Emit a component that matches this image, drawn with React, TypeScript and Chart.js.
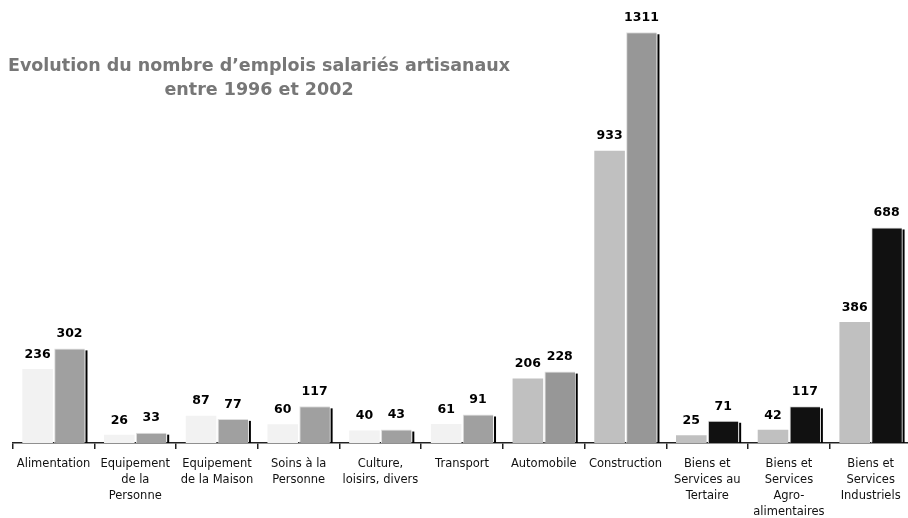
import React, { useEffect, useRef } from 'react';
import { Chart, registerables } from 'chart.js';

Chart.register(...registerables);

const categories: (string | string[])[] = [
  'Alimentation',
  ['Equipement', 'de la', 'Personne'],
  ['Equipement', 'de la Maison'],
  ['Soins à la', 'Personne'],
  ['Culture,', 'loisirs, divers'],
  'Transport',
  'Automobile',
  'Construction',
  ['Biens et', 'Services au', 'Tertaire'],
  ['Biens et', 'Services', 'Agro-', 'alimentaires'],
  ['Biens et', 'Services', 'Industriels'],
];

const values1996 = [236, 26, 87, 60, 40, 61, 206, 933, 25, 42, 386];
const values2002 = [302, 33, 77, 117, 43, 91, 228, 1311, 71, 117, 688];

const colors1996 = ['#f2f2f2', '#f2f2f2', '#f2f2f2', '#f2f2f2', '#f2f2f2', '#f2f2f2', '#c0c0c0', '#c0c0c0', '#c0c0c0', '#c0c0c0', '#c0c0c0'];
const colors2002 = ['#a0a0a0', '#a0a0a0', '#a0a0a0', '#a0a0a0', '#a0a0a0', '#a0a0a0', '#979797', '#979797', '#111111', '#111111', '#111111'];

const titleLines = ["Evolution du nombre d’emplois salariés artisanaux", 'entre 1996 et 2002'];

const shadowPlugin = {
  id: 'barShadow',
  afterDatasetsDraw(chart: any) {
    const ctx = chart.ctx;
    const meta = chart.getDatasetMeta(1);
    ctx.save();
    ctx.fillStyle = '#000';
    meta.data.forEach((bar: any) => {
      const p = bar.getProps(['x', 'y', 'base', 'width'], true);
      const right = p.x + p.width / 2;
      ctx.fillRect(right + 0.7, p.y + 2, 2, p.base - p.y - 2);
    });
    ctx.restore();
  },
};

const valueLabelPlugin = {
  id: 'valueLabels',
  afterDatasetsDraw(chart: any) {
    const ctx = chart.ctx;
    ctx.save();
    ctx.font = 'bold 12.5px "DejaVu Sans"';
    ctx.fillStyle = '#000';
    ctx.textAlign = 'center';
    ctx.textBaseline = 'middle';
    chart.data.datasets.forEach((ds: any, di: number) => {
      const meta = chart.getDatasetMeta(di);
      meta.data.forEach((bar: any, i: number) => {
        const p = bar.getProps(['x', 'y'], true);
        ctx.fillText(String(ds.data[i]), p.x, p.y - 14.5);
      });
    });
    ctx.restore();
  },
};

const titlePlugin = {
  id: 'customTitle',
  afterDraw(chart: any) {
    const ctx = chart.ctx;
    ctx.save();
    ctx.font = 'bold 17.5px "DejaVu Sans"';
    ctx.fillStyle = '#777777';
    ctx.textAlign = 'center';
    ctx.textBaseline = 'middle';
    ctx.fillText(titleLines[0], 259, 66);
    ctx.fillText(titleLines[1], 259, 90);
    ctx.restore();
  },
};

export default function App() {
  const ref = useRef<HTMLCanvasElement>(null);
  useEffect(() => {
    const chart = new Chart(ref.current as HTMLCanvasElement, {
      type: 'bar',
      data: {
        labels: categories,
        datasets: [
          {
            label: '1996',
            data: values1996,
            backgroundColor: colors1996,
            borderWidth: 0,
            categoryPercentage: 0.78,
            barPercentage: 0.96,
          },
          {
            label: '2002',
            data: values2002,
            backgroundColor: colors2002,
            borderColor: '#dedede',
            borderWidth: { top: 1, left: 1, right: 0, bottom: 0 },
            borderSkipped: false,
            categoryPercentage: 0.78,
            barPercentage: 0.96,
          },
        ],
      } as any,
      options: {
        animation: false,
        responsive: false,
        layout: { padding: { left: 12.7, right: 1.5, top: 4.4, bottom: 0 } },
        plugins: {
          legend: { display: false },
          tooltip: { enabled: false },
          title: { display: false },
        },
        scales: {
          x: {
            afterFit: (scale: any) => {
              scale.height = 75;
            },
            grid: {
              display: true,
              drawOnChartArea: false,
              drawTicks: true,
              tickLength: 6,
              offset: true,
              color: '#222',
              lineWidth: 1.5,
            },
            border: { display: true, color: '#222', width: 1.5 },
            ticks: {
              autoSkip: false,
              maxRotation: 0,
              minRotation: 0,
              padding: 7,
              color: '#111',
              font: { family: '"DejaVu Sans"', size: 11.5, lineHeight: 1.39 },
            },
          },
          y: { display: false, min: 0, max: 1400 },
        },
      } as any,
      plugins: [shadowPlugin, valueLabelPlugin, titlePlugin],
    });
    return () => chart.destroy();
  }, []);
  return (
    <div style={{ position: 'fixed', left: 0, top: 0, width: 908, height: 518, overflow: 'hidden', background: '#fff' }}>
      <canvas ref={ref} width={913} height={518} style={{ display: 'block' }} />
    </div>
  );
}
